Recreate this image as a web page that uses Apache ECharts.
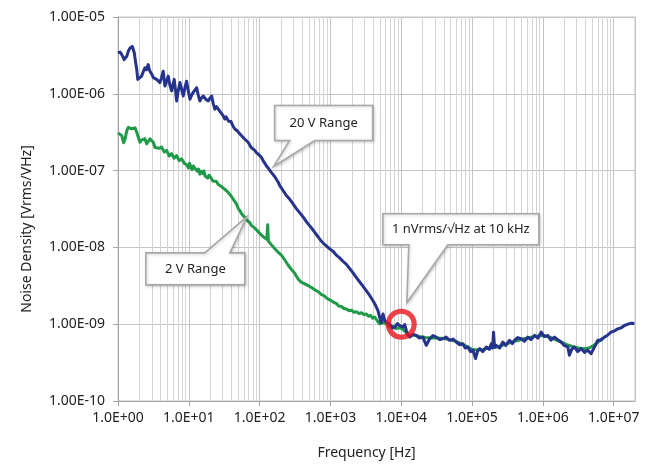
<!DOCTYPE html>
<html>
<head>
<meta charset="utf-8">
<script src="https://cdn.jsdelivr.net/npm/echarts@6/dist/echarts.min.js"></script>
<style>
html,body{margin:0;padding:0;background:#fff;}
#main{width:652px;height:465px;}
</style>
</head>
<body>
<div id="main"></div>
<script>
// ---- data ----
const xTickLabels = ['1.0E+00','1.0E+01','1.0E+02','1.0E+03','1.0E+04','1.0E+05','1.0E+06','1.0E+07'];
const yTickLabels = ['1.00E-10','1.00E-09','1.00E-08','1.00E-07','1.00E-06','1.00E-05'];

const range20V = [
[1.00,3.4e-6],[1.07,3.5e-6],[1.13,3.24e-6],[1.18,3.0e-6],[1.22,2.79e-6],[1.28,2.95e-6],[1.33,3.08e-6],[1.40,3.6e-6],[1.48,3.95e-6],[1.59,4.14e-6],
[1.64,3.8e-6],[1.70,3.4e-6],[1.77,2.6e-6],[1.84,2.07e-6],[1.90,1.54e-6],[2.0,1.62e-6],[2.16,1.70e-6],[2.28,1.95e-6],[2.40,2.18e-6],[2.52,2.05e-6],
[2.67,2.40e-6],[2.75,2.1e-6],[2.83,1.97e-6],[3.0,1.8e-6],[3.15,1.62e-6],[3.3,1.7e-6],[3.51,1.54e-6],[3.7,1.6e-6],[3.91,1.40e-6],[4.1,1.6e-6],
[4.35,1.97e-6],[4.5,1.5e-6],[4.60,1.26e-6],[4.85,1.45e-6],[5.12,1.70e-6],[5.4,1.3e-6],[5.72,1.09e-6],[5.95,1.3e-6],[6.22,1.54e-6],[6.5,1.1e-6],
[6.73,8.07e-7],[7.1,1.1e-6],[7.49,1.40e-6],[7.9,1.15e-6],[8.34,9.37e-7],[8.8,1.2e-6],[9.31,1.46e-6],[9.8,1.1e-6],[10.4,8.49e-7],[10.9,9.5e-7],
[11.5,1.04e-6],[12.2,1.12e-6],[12.9,1.20e-6],[13.6,9.6e-7],[14.3,8.07e-7],[15.1,8.8e-7],[16.0,9.37e-7],[17.3,8.5e-7],[18.8,8.07e-7],[19.9,8.8e-7],
[21.0,9.37e-7],[22.1,7.5e-7],[23.3,6.31e-7],[24.6,6.8e-7],[26,6.5e-7],[27.5,5.9e-7],[29.0,5.72e-7],[30.5,5.2e-7],[32.3,4.69e-7],[33.6,5.0e-7],
[35,4.9e-7],[36.5,4.4e-7],[38,4.2e-7],[39.5,4.35e-7],[41,4.0e-7],[42.8,3.7e-7],[44.7,3.48e-7],[46.3,3.55e-7],[48,3.3e-7],[49.5,3.35e-7],
[51,3.1e-7],[53.3,3.0e-7],[55.6,2.85e-7],[58,2.8e-7],[61,2.6e-7],[64.7,2.5e-7],[68.8,2.34e-7],[72.3,2.22e-7],[76,2.0e-7],[80.5,1.95e-7],
[85.5,1.83e-7],[90,1.72e-7],[95,1.62e-7],[100,1.58e-7],[106,1.48e-7],[112,1.35e-7],[118,1.25e-7],[125,1.15e-7],[132,1.08e-7],[140,1.02e-7],
[147,9.4e-8],[155,9.0e-8],[164,8.3e-8],[174,7.6e-8],[184,7.0e-8],[194,6.3e-8],[204,5.9e-8],[220,5.3e-8],[240,4.7e-8],[260,4.35e-8],
[282,3.95e-8],[305,3.55e-8],[330,3.2e-8],[360,2.9e-8],[390,2.65e-8],[425,2.38e-8],[460,2.15e-8],[500,1.95e-8],[540,1.79e-8],[590,1.6e-8],
[640,1.45e-8],[690,1.32e-8],[747,1.20e-8],[820,1.1e-8],[900,1.02e-8],[990,9.5e-9],[1088,8.9e-9],[1200,8.0e-9],[1350,7.3e-9],[1500,6.6e-9],
[1682,6.0e-9],[1840,5.4e-9],[2000,4.9e-9],[2160,4.45e-9],[2328,4.04e-9],[2530,3.65e-9],[2750,3.3e-9],[2980,3.0e-9],[3222,2.72e-9],[3600,2.35e-9],
[3990,2.02e-9],[4350,1.75e-9],[4690,1.50e-9],[4955,1.23e-9],[5200,1.05e-9],[5520,1.36e-9],[5830,1.12e-9],[6300,1.05e-9],[6860,1.01e-9],[7500,8.9e-10],
[8200,9.3e-10],[8800,1.02e-9],[9490,9.62e-10],[1.06e4,9.14e-10],[1.12e4,9.9e-10],[1.18e4,8.29e-10],[1.24e4,7.3e-10],
[1.31e4,6.79e-10],[1.45e4,7.4e-10],[1.63e4,7.14e-10],[1.8e4,6.6e-10],[2.02e4,6.79e-10],[2.26e4,5.31e-10],[2.52e4,6.46e-10],[2.8e4,7.1e-10],[3.13e4,6.79e-10],[3.5e4,6.3e-10],
[3.88e4,6.46e-10],[4.3e4,6.8e-10],[4.82e4,6.16e-10],[5.4e4,6.4e-10],[5.98e4,5.86e-10],[6.7e4,5.4e-10],[7.42e4,5.57e-10],[8.0e4,4.9e-10],[8.73e4,5.05e-10],[9.5e4,4.4e-10],
[1.03e5,4.58e-10],[1.12e5,3.57e-10],[1.2e5,4.5e-10],[1.28e5,4.80e-10],[1.42e5,4.4e-10],[1.59e5,5.05e-10],[1.75e5,4.7e-10],[1.87e5,5.57e-10],[1.95e5,4.9e-10],[2.01e5,7.88e-10],
[2.08e5,5.0e-10],[2.19e5,5.31e-10],[2.45e5,4.9e-10],[2.72e5,5.86e-10],[3.0e5,5.3e-10],[3.38e5,6.16e-10],[3.7e5,5.6e-10],[3.97e5,6.16e-10],[4.4e5,6.7e-10],[4.94e5,6.46e-10],
[5.5e5,6.0e-10],[6.12e5,6.79e-10],[6.8e5,6.3e-10],[7.62e5,7.14e-10],[8.5e5,6.6e-10],[9.47e5,7.88e-10],[1.05e6,6.9e-10],[1.17e6,7.14e-10],[1.3e6,6.2e-10],[1.46e6,6.79e-10],
[1.62e6,6.3e-10],[1.81e6,5.86e-10],[2.0e6,5.3e-10],[2.25e6,5.05e-10],[2.37e6,3.95e-10],[2.55e6,4.7e-10],[2.79e6,5.05e-10],[3.1e6,4.4e-10],[3.47e6,4.80e-10],[3.9e6,4.3e-10],
[4.30e6,4.58e-10],[4.80e6,4.14e-10],[5.35e6,5.05e-10],[5.95e6,6.16e-10],[6.6e6,6.2e-10],[7.39e6,6.79e-10],[8.2e6,7.2e-10],[9.19e6,7.88e-10],[1.03e7,8.2e-10],[1.14e7,8.69e-10],
[1.28e7,9.0e-10],[1.42e7,9.62e-10],[1.6e7,1.0e-9],[1.76e7,1.03e-9],[1.96e7,1.02e-9]
];

const range2V = [
[1.00,3.1e-7],[1.03,3.0e-7],[1.13,2.85e-7],[1.2,2.3e-7],[1.26,2.59e-7],[1.33,3.3e-7],[1.40,3.66e-7],[1.48,3.84e-7],[1.56,3.5e-7],[1.64,3.31e-7],
[1.74,3.6e-7],[1.84,3.16e-7],[1.94,2.7e-7],[2.04,2.34e-7],[2.15,2.5e-7],[2.27,2.46e-7],[2.4,2.6e-7],[2.54,2.23e-7],[2.68,2.4e-7],[2.83,2.59e-7],
[3.0,2.45e-7],[3.15,2.34e-7],[3.33,2.0e-7],[3.51,2.12e-7],[3.8,1.95e-7],[4.13,2.02e-7],[4.5,1.75e-7],[4.86,1.83e-7],[5.3,1.55e-7],[5.72,1.66e-7],
[6.2,1.45e-7],[6.73,1.57e-7],[7.3,1.35e-7],[7.9,1.42e-7],[8.6,1.25e-7],[9.4,1.18e-7],[9.9,1.08e-7],[10.2,1.25e-7],[10.7,1.12e-7],[11.1,1.03e-7],
[11.6,1.15e-7],[12.1,1.08e-7],[12.6,1.12e-7],[13.2,9.8e-8],[13.7,1.05e-7],[14.3,9.0e-8],[14.9,9.8e-8],[15.6,9.2e-8],[16.3,9.9e-8],[17.0,8.5e-8],
[17.7,8.9e-8],[18.5,8.0e-8],[19.3,8.7e-8],[20.1,8.2e-8],[21.0,7.8e-8],[21.9,7.3e-8],[22.6,7.6e-8],[23.3,7.0e-8],[24.6,7.2e-8],[26,6.6e-8],
[27.5,6.9e-8],[29,6.2e-8],[30.6,6.5e-8],[32.3,5.7e-8],[34,5.9e-8],[36,5.2e-8],[38,5.3e-8],[40,4.6e-8],[42.3,4.4e-8],[44.7,3.95e-8],
[47,3.7e-8],[50,3.2e-8],[52.8,3.0e-8],[55.6,2.75e-8],[58.7,2.6e-8],[62,2.45e-8],[65,2.3e-8],[68.8,2.2e-8],[72.5,2.1e-8],[77,1.92e-8],
[81,1.95e-8],[85.5,1.78e-8],[90,1.7e-8],[95,1.62e-8],[100,1.52e-8],[106,1.48e-8],[112,1.38e-8],[118,1.35e-8],[126,1.28e-8],[130,1.97e-8],
[133,1.2e-8],[140,1.16e-8],[148,1.07e-8],[156,1.05e-8],[164,9.6e-9],[174,9.3e-9],[184,8.6e-9],[194,8.5e-9],[204,7.9e-9],[216,7.5e-9],
[228,6.8e-9],[240,6.6e-9],[252,5.9e-9],[266,5.6e-9],[280,5.2e-9],[296,5.0e-9],[313,4.6e-9],[326,4.3e-9],[340,4.05e-9],[355,3.8e-9],
[369,3.67e-9],[390,3.5e-9],[410,3.45e-9],[435,3.35e-9],[459,3.25e-9],[495,3.15e-9],[540,3.0e-9],[585,2.85e-9],[635,2.72e-9],[690,2.6e-9],
[750,2.42e-9],[810,2.35e-9],[879,2.2e-9],[950,2.1e-9],[1030,2.02e-9],[1120,1.92e-9],[1216,1.85e-9],[1320,1.72e-9],[1430,1.70e-9],[1550,1.6e-9],
[1682,1.58e-9],[1830,1.5e-9],[2000,1.52e-9],[2150,1.43e-9],[2328,1.45e-9],[2530,1.38e-9],[2750,1.41e-9],[3000,1.33e-9],[3222,1.36e-9],[3450,1.27e-9],
[3700,1.3e-9],[3950,1.2e-9],[4217,1.24e-9],[4600,1.1e-9],[4955,1.01e-9],[5500,1.05e-9],[6166,1.01e-9],[6900,9.1e-10],[7600,9.4e-10],[8400,8.8e-10],
[9300,9.0e-10],[1.05e4,8.6e-10],[1.2e4,7.6e-10],[1.35e4,7.0e-10],[1.5e4,7.2e-10],[1.8e4,6.9e-10],[2.2e4,6.7e-10],[2.7e4,6.6e-10],[3.3e4,6.6e-10],[4.0e4,6.5e-10],
[4.8e4,6.3e-10],[5.8e4,6.0e-10],[7.0e4,5.6e-10],[8.5e4,5.1e-10],[1.0e5,4.7e-10],[1.2e5,4.6e-10],[1.45e5,4.7e-10],[1.75e5,4.9e-10],[2.1e5,5.0e-10],[2.5e5,5.2e-10],
[3.0e5,5.5e-10],[3.6e5,5.8e-10],[4.3e5,6.1e-10],[5.2e5,6.4e-10],[6.2e5,6.6e-10],[7.5e5,6.9e-10],[9.0e5,7.1e-10],[1.08e6,7.0e-10],[1.3e6,6.7e-10],[1.55e6,6.2e-10],
[1.85e6,5.8e-10],[2.2e6,5.4e-10],[2.65e6,5.1e-10],[3.2e6,4.9e-10],[3.8e6,4.8e-10],[4.5e6,4.9e-10],[5.4e6,5.4e-10],[6.2e6,6.0e-10],[7.0e6,6.6e-10]
];

// highlighted point (red circle) and callout anchor points (tip of each pointer)
const highlightPoint = [[1e4, 1e-9]];
const calloutTexts = ['20 V Range', '2 V Range', '1 nVrms/\u221AHz at 10 kHz'];
const calloutAnchors = [[158, 1.13e-7], [66, 2.5e-8], [1.2e4, 1.9e-9]];

// ---- helpers ----
const FONT = '"Noto Sans", "Open Sans", sans-serif';
function expLabel(v, digits) {
  const e = Math.round(Math.log10(v));
  const m = (v / Math.pow(10, e)).toFixed(digits);
  return m + 'E' + (e < 0 ? '-' : '+') + String(Math.abs(e)).padStart(2, '0');
}
const xMinor = [], yMinor = [];
for (let d = 0; d <= 6; d++) for (let m = 2; m <= 9; m++) xMinor.push({xAxis: m * Math.pow(10, d)});
for (let d = -10; d <= -6; d++) for (let m = 2; m <= 9; m++) yMinor.push({yAxis: m * Math.pow(10, d)});

const chart = echarts.init(document.getElementById('main'), null, {renderer: 'canvas'});
const axisColor = '#a6a6a6';
const option = {
  animation: false,
  backgroundColor: '#ffffff',
  grid: {left: 118, right: 17, top: 17, bottom: 61, show: true, borderColor: '#c4c4c4', borderWidth: 1, containLabel: false},
  xAxis: {
    type: 'log', logBase: 10, min: 1, max: 2e7,
    name: 'Frequency [Hz]', nameLocation: 'middle', nameGap: 45,
    nameTextStyle: {fontFamily: FONT, fontSize: 14, color: '#222', padding: [0, 20, 0, 0]},
    axisLine: {show: true, lineStyle: {color: axisColor, width: 1}},
    axisTick: {show: true, length: 5, lineStyle: {color: axisColor}},
    axisLabel: {
      fontFamily: FONT, fontSize: 14, color: '#222', margin: 10, showMaxLabel: false,
      formatter: function (v) { const i = Math.round(Math.log10(v)); return xTickLabels[i] !== undefined && Math.abs(Math.log10(v) - i) < 1e-6 ? xTickLabels[i] : ''; }
    },
    splitLine: {show: true, lineStyle: {color: '#c4c4c4', width: 1}},
    minorTick: {show: false}, minorSplitLine: {show: false}
  },
  yAxis: {
    type: 'log', logBase: 10, min: 1e-10, max: 1e-5,
    name: 'Noise Density [Vrms/VHz]', nameLocation: 'middle', nameGap: 84,
    nameTextStyle: {fontFamily: FONT, fontSize: 14, color: '#222', padding: [0, 40, 0, 0]},
    axisLine: {show: true, lineStyle: {color: axisColor, width: 1}},
    axisTick: {show: true, length: 5, lineStyle: {color: axisColor}},
    axisLabel: {
      fontFamily: FONT, fontSize: 14, color: '#222', margin: 13,
      formatter: function (v) { const i = Math.round(Math.log10(v)) + 10; return yTickLabels[i] !== undefined ? yTickLabels[i] : expLabel(v, 2); }
    },
    splitLine: {show: true, lineStyle: {color: '#c4c4c4', width: 1}}
  },
  series: [
    {
      name: 'minor grid', type: 'line', z: 1, silent: true,
      data: [], showSymbol: false, lineStyle: {width: 0},
      markLine: {
        z: 1, silent: true, symbol: ['none', 'none'], animation: false,
        label: {show: false}, emphasis: {disabled: true},
        lineStyle: {color: '#d4d4d4', width: 1, type: 'solid'},
        data: xMinor.concat(yMinor)
      }
    },
    {
      name: '2 V Range', type: 'line', z: 3, data: range2V,
      showSymbol: false, symbol: 'none', smooth: false,
      lineStyle: {color: '#1f9a48', width: 3, join: 'round'}
    },
    {
      name: '20 V Range', type: 'line', z: 4, data: range20V,
      showSymbol: false, symbol: 'none', smooth: false,
      lineStyle: {color: '#26338c', width: 3, join: 'round'}
    },
    {
      name: 'highlight', type: 'scatter', z: 6, data: highlightPoint,
      symbol: 'circle', symbolSize: 26, silent: true,
      itemStyle: {color: 'rgba(0,0,0,0)', borderColor: '#e8141c', borderWidth: 5}
    }
  ]
};
chart.setOption(option);

// ---- callouts anchored to data coordinates ----
function calloutGraphic(tip, box, wedge, text, pointerUp) {
  const [tx, ty] = tip;
  const L = tx + box[0], T = ty + box[1], R = tx + box[2], B = ty + box[3];
  let pts;
  if (!pointerUp) {
    pts = [[L, T], [R, T], [R, B], [tx + wedge[1], B], [tx, ty], [tx + wedge[0], B], [L, B]];
  } else {
    pts = [[L, T], [tx + wedge[0], T], [tx, ty], [tx + wedge[1], T], [R, T], [R, B], [L, B]];
  }
  return [
    {type: 'polygon', z: 10, shape: {points: pts}, style: {fill: '#ffffff', stroke: '#a8a8a8', lineWidth: 1.6, shadowBlur: 3, shadowColor: 'rgba(0,0,0,0.18)', shadowOffsetX: 1, shadowOffsetY: 1}},
    {type: 'text', z: 11, x: (L + R) / 2, y: (T + B) / 2,
     style: {text: text, fill: '#222', font: '13px ' + FONT, align: 'center', verticalAlign: 'middle', textAlign: 'center', textVerticalAlign: 'middle'}}
  ];
}
const p = calloutAnchors.map(a => chart.convertToPixel({gridIndex: 0}, a));
const graphics = [].concat(
  calloutGraphic(p[0], [1, -61, 99, -26], [16, 41], calloutTexts[0], false),
  calloutGraphic(p[1], [-101, 36, -2, 68], [-42, -17], calloutTexts[1], true),
  calloutGraphic(p[2], [-24, -89, 132, -58], [2, 41], calloutTexts[2], false)
);
chart.setOption({graphic: graphics});
</script>
</body>
</html>
